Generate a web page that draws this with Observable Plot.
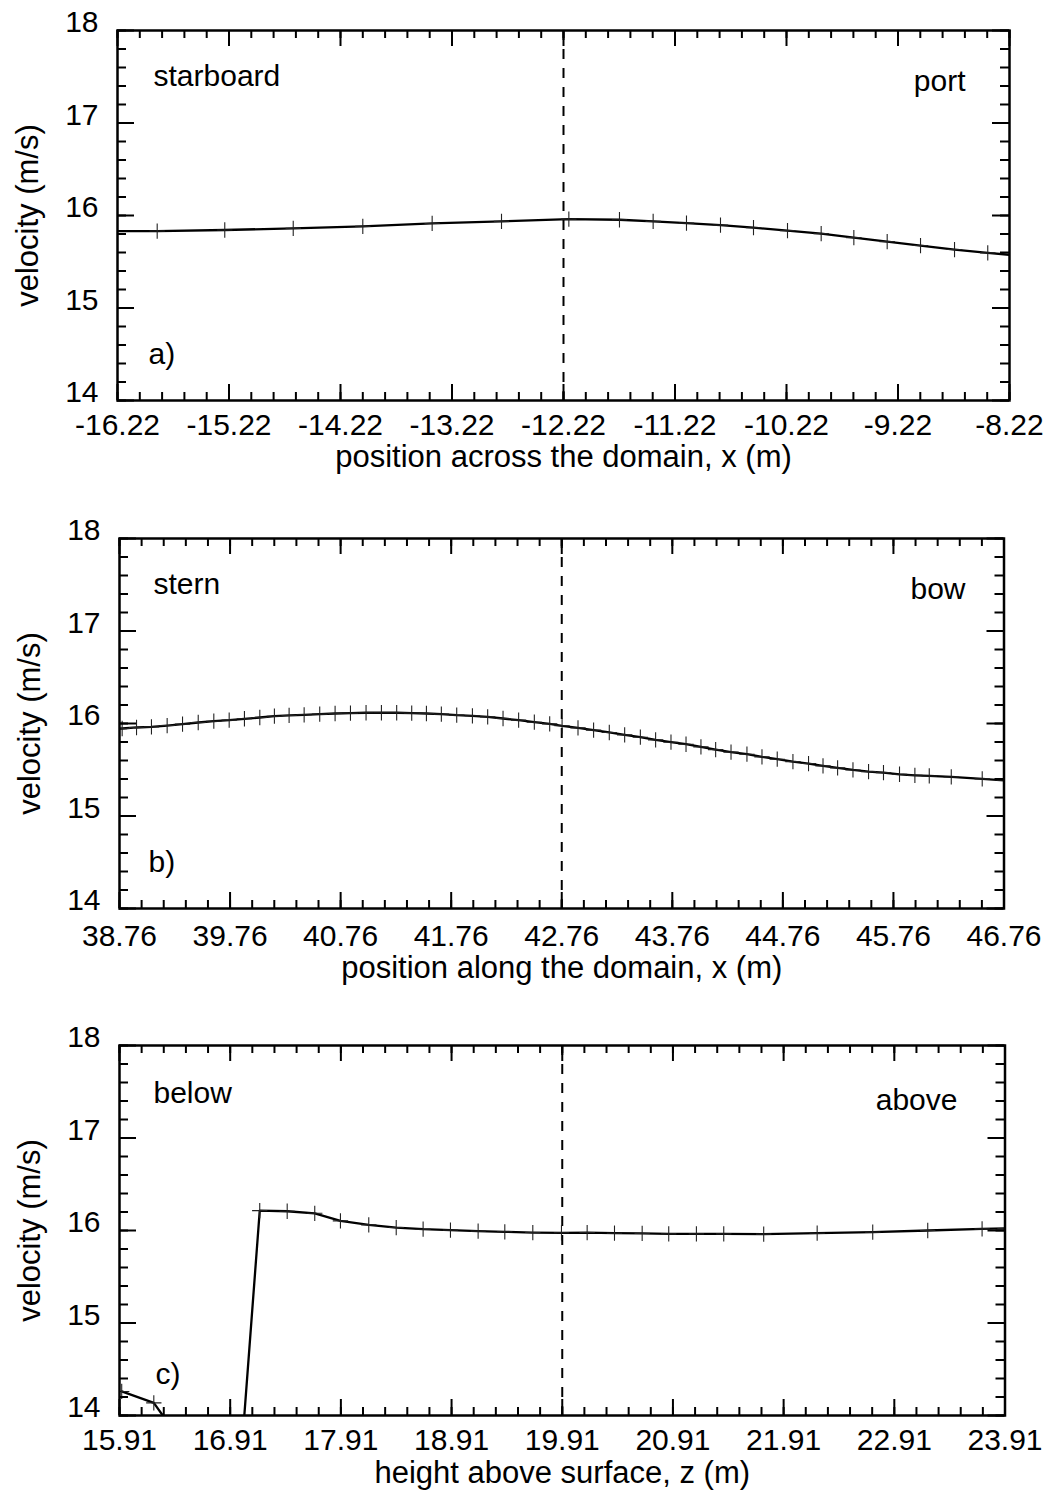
<!DOCTYPE html>
<html><head><meta charset="utf-8">
<script src="https://cdn.jsdelivr.net/npm/d3@7"></script>
<script src="https://cdn.jsdelivr.net/npm/@observablehq/plot@0.6"></script>
<style>
body{margin:0;background:#fff;}
#wrap{position:relative;width:1053px;height:1493px;overflow:hidden;background:#fff;}
#wrap > div{position:absolute;left:0;}
</style></head>
<body><div id="wrap"><div id="pa" style="top:0px"></div><div id="pb" style="top:500px"></div><div id="pc" style="top:1000px"></div></div>
<script>
// ---- data ----
const xA = [-16.48, -15.864, -15.258, -14.644, -14.020, -13.398, -12.776, -12.172, -11.718, -11.416, -11.117, -10.812, -10.516, -10.211, -9.909, -9.616, -9.317, -9.018, -8.713, -8.415, -8.12];
const vA = [15.83, 15.832, 15.843, 15.861, 15.882, 15.914, 15.936, 15.961, 15.954, 15.936, 15.918, 15.896, 15.868, 15.836, 15.804, 15.761, 15.718, 15.675, 15.632, 15.596, 15.565];

const xB = [38.76, 38.784, 38.914, 39.049, 39.191, 39.330, 39.472, 39.613, 39.752, 39.890, 40.029, 40.161, 40.294, 40.430, 40.571, 40.710, 40.849, 40.990, 41.129, 41.267, 41.403, 41.536, 41.671, 41.810, 41.952, 42.090, 42.229, 42.370, 42.512, 42.651, 42.763, 42.907, 43.048, 43.190, 43.329, 43.471, 43.609, 43.748, 43.884, 44.019, 44.152, 44.291, 44.435, 44.571, 44.709, 44.851, 44.992, 45.123, 45.255, 45.394, 45.535, 45.670, 45.815, 45.954, 46.084, 46.283, 46.563, 46.76];
const vB = [15.944, 15.946, 15.957, 15.964, 15.978, 15.993, 16.011, 16.025, 16.036, 16.051, 16.065, 16.079, 16.087, 16.094, 16.101, 16.108, 16.112, 16.116, 16.116, 16.116, 16.112, 16.108, 16.101, 16.090, 16.083, 16.072, 16.054, 16.036, 16.014, 15.996, 15.975, 15.953, 15.928, 15.903, 15.877, 15.852, 15.823, 15.798, 15.776, 15.747, 15.718, 15.690, 15.668, 15.639, 15.614, 15.588, 15.567, 15.542, 15.520, 15.498, 15.480, 15.469, 15.451, 15.440, 15.433, 15.422, 15.401, 15.386];

const xC = [15.93, 16.22, 16.45, 16.93, 17.177, 17.425, 17.674, 17.906, 18.162, 18.410, 18.653, 18.900, 19.150, 19.391, 19.644, 19.903, 20.135, 20.382, 20.632, 20.872, 21.122, 21.369, 21.730, 22.213, 22.715, 23.212, 23.703, 23.91];
const vC = [14.26, 14.137, 13.75, 12.29, 16.215, 16.208, 16.186, 16.104, 16.061, 16.032, 16.014, 16.004, 15.993, 15.986, 15.978, 15.975, 15.978, 15.971, 15.968, 15.964, 15.964, 15.964, 15.961, 15.971, 15.982, 16.0, 16.018, 16.022];

const xTicksA = [-16.22, -15.22, -14.22, -13.22, -12.22, -11.22, -10.22, -9.22, -8.22];
const xTickLabelsA = ["-16.22", "-15.22", "-14.22", "-13.22", "-12.22", "-11.22", "-10.22", "-9.22", "-8.22"];
const xTicksB = [38.76, 39.76, 40.76, 41.76, 42.76, 43.76, 44.76, 45.76, 46.76];
const xTickLabelsB = ["38.76", "39.76", "40.76", "41.76", "42.76", "43.76", "44.76", "45.76", "46.76"];
const xTicksC = [15.91, 16.91, 17.91, 18.91, 19.91, 20.91, 21.91, 22.91, 23.91];
const xTickLabelsC = ["15.91", "16.91", "17.91", "18.91", "19.91", "20.91", "21.91", "22.91", "23.91"];
const yTicks = [14, 15, 16, 17, 18];
const yTickLabels = ["14", "15", "16", "17", "18"];

const dashA = -12.22, dashB = 42.76, dashC = 19.91;
const yTitle = "velocity (m/s)";
const xTitleA = "position across the domain, x (m)";
const xTitleB = "position along the domain, x (m)";
const xTitleC = "height above surface, z (m)";
const labelsA = ["starboard", "port", "a)"];
const labelsB = ["stern", "bow", "b)"];
const labelsC = ["below", "above", "c)"];

// ---- layout ----
const FONT = "'Liberation Sans', Arial, Helvetica, sans-serif";
const FH = 370;

function panel(o) {
  const W = 1053;
  const H = o.mt + FH + o.mb;
  const fw = W - o.ml - o.mr;
  const x0 = o.domain[0];
  const xMinor = d3.range(0, 41).map(i => +(x0 + i * 0.2).toFixed(2));
  const yMinor = d3.range(0, 21).map(i => +(14 + i * 0.2).toFixed(1));
  const pts = o.xs.map((x, i) => ({x, v: o.vs[i]}));
  const xt = o.xTicks.map((v, i) => ({v, label: o.xTickLabels[i]}));
  const yt = yTicks.map((v, i) => ({v, label: yTickLabels[i]}));
  const ts = {stroke: "black", strokeWidth: 2};
  return Plot.plot({
    width: W, height: H,
    marginTop: o.mt, marginBottom: o.mb, marginLeft: o.ml, marginRight: o.mr,
    x: {domain: o.domain, axis: null},
    y: {domain: [14, 18], axis: null},
    style: {fontFamily: FONT, fontSize: "30px", background: "white", color: "black", overflow: "visible"},
    marks: [
      Plot.ruleX([o.dash], {x: d => d, stroke: "black", strokeWidth: 2, strokeDasharray: "10,9"}),
      Plot.line(pts, {x: "x", y: "v", stroke: "black", strokeWidth: 2.3, clip: true}),
      Plot.dot(pts, {x: "x", y: "v", symbol: "plus", r: 5, stroke: "#222", strokeWidth: 1.1, clip: true}),
      Plot.tickX(xMinor, {x: d => d, insetTop: FH - 8, ...ts}),
      Plot.tickX(xMinor, {x: d => d, insetBottom: FH - 8, ...ts}),
      Plot.tickX(o.xTicks, {x: d => d, insetTop: FH - 16, ...ts}),
      Plot.tickX(o.xTicks, {x: d => d, insetBottom: FH - 16, ...ts}),
      Plot.tickY(yMinor, {y: d => d, insetRight: fw - 9, ...ts}),
      Plot.tickY(yMinor, {y: d => d, insetLeft: fw - 9, ...ts}),
      Plot.tickY(yTicks, {y: d => d, insetRight: fw - 17, ...ts}),
      Plot.tickY(yTicks, {y: d => d, insetLeft: fw - 17, ...ts}),
      Plot.frame({stroke: "black", strokeWidth: 2.5}),
      Plot.text(xt, {x: "v", text: "label", frameAnchor: "bottom", lineAnchor: "bottom", dy: o.xLabDy, fontSize: 30, fill: "black"}),
      Plot.text(yt, {y: "v", text: "label", frameAnchor: "left", textAnchor: "end", lineAnchor: "middle", dx: -19, dy: -8, fontSize: 30, fill: "black"}),
      Plot.text([o.xTitle], {text: d => d, frameAnchor: "bottom", lineAnchor: "bottom", dy: o.xTitleDy, fontSize: 31, fill: "black"}),
      Plot.text([yTitle], {text: d => d, frameAnchor: "left", rotate: -90, textAnchor: "middle", lineAnchor: "middle", dx: -89, fontSize: 31, fill: "black"}),
      Plot.text([o.labels[0]], {text: d => d, frameAnchor: "top-left", textAnchor: "start", lineAnchor: "bottom", dx: o.lpos[0], dy: o.lpos[1], fontSize: 30, fill: "black"}),
      Plot.text([o.labels[1]], {text: d => d, frameAnchor: "top-right", textAnchor: "end", lineAnchor: "bottom", dx: o.rpos[0], dy: o.rpos[1], fontSize: 30, fill: "black"}),
      Plot.text([o.labels[2]], {text: d => d, frameAnchor: "bottom-left", textAnchor: "start", lineAnchor: "bottom", dx: o.tpos[0], dy: o.tpos[1], fontSize: 30, fill: "black"})
    ]
  });
}

document.getElementById("pa").append(panel({
  domain: [-16.22, -8.22], xs: xA, vs: vA, xTicks: xTicksA, xTickLabels: xTickLabelsA, dash: dashA,
  xTitle: xTitleA, labels: labelsA,
  mt: 30, mb: 90, ml: 117, mr: 44, xLabDy: 34, xTitleDy: 66,
  lpos: [36, 55], rpos: [-44, 60], tpos: [31, -37]
}));
document.getElementById("pb").append(panel({
  domain: [38.76, 46.76], xs: xB, vs: vB, xTicks: xTicksB, xTickLabels: xTickLabelsB, dash: dashB,
  xTitle: xTitleB, labels: labelsB,
  mt: 38, mb: 90, ml: 119, mr: 49.5, xLabDy: 37, xTitleDy: 69,
  lpos: [34, 55], rpos: [-38.5, 60], tpos: [29, -37]
}));
document.getElementById("pc").append(panel({
  domain: [15.91, 23.91], xs: xC, vs: vC, xTicks: xTicksC, xTickLabels: xTickLabelsC, dash: dashC,
  xTitle: xTitleC, labels: labelsC,
  mt: 45, mb: 78, ml: 119, mr: 48.5, xLabDy: 34, xTitleDy: 67,
  lpos: [34, 57], rpos: [-47.5, 64], tpos: [36, -32]
}));
</script>
</body></html>
